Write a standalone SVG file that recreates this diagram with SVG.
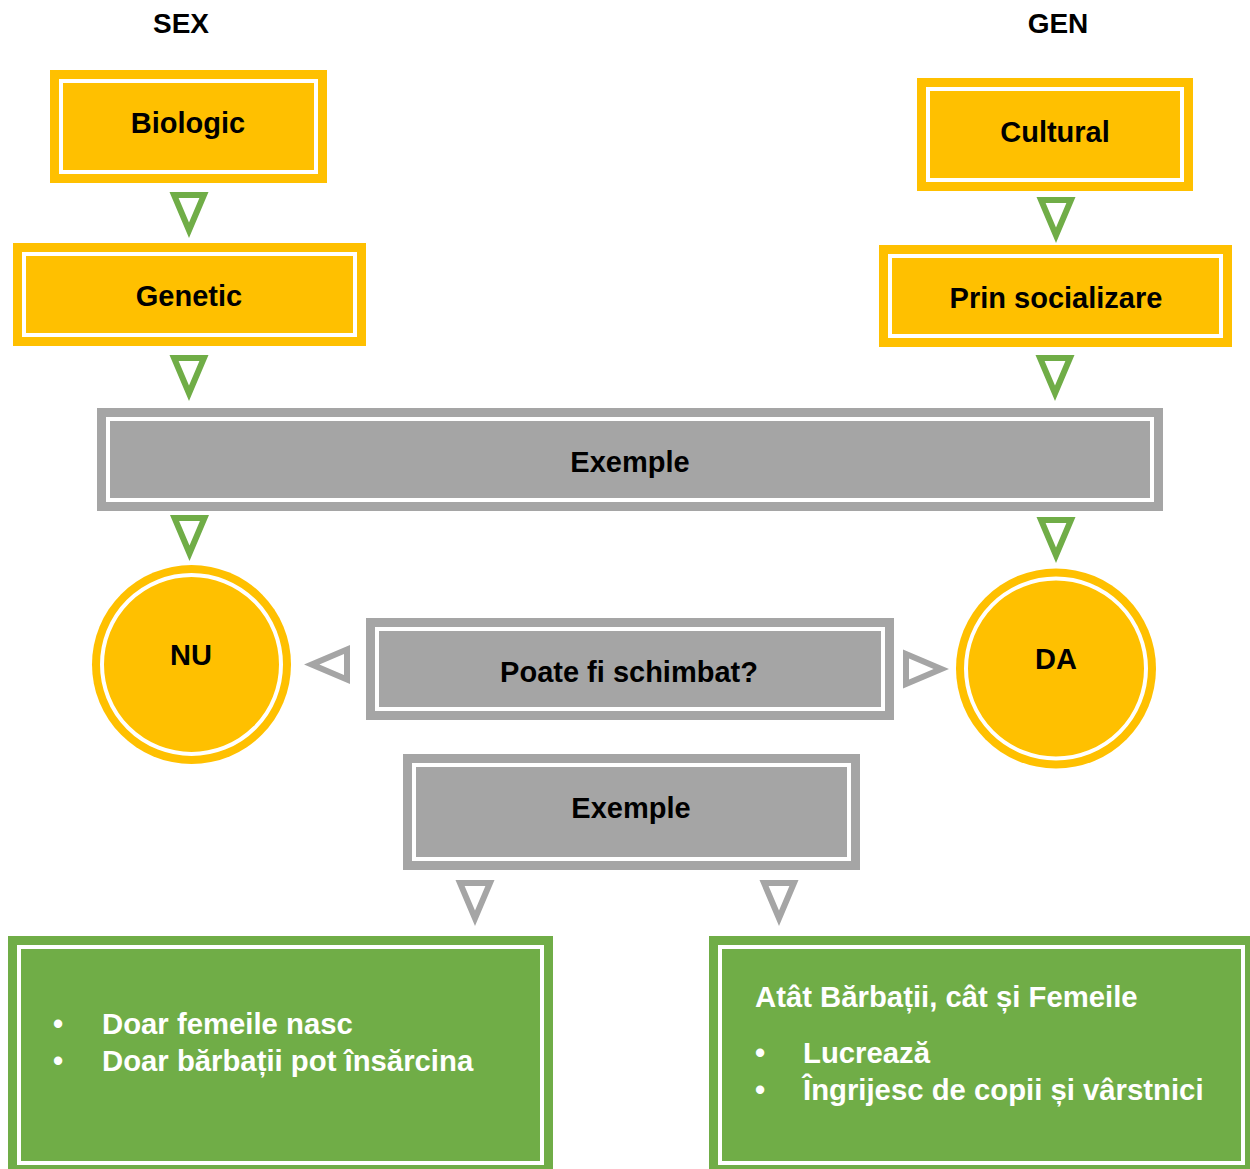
<svg xmlns="http://www.w3.org/2000/svg" xmlns:xlink="http://www.w3.org/1999/xlink" width="1250" height="1169" viewBox="0 0 1250 1169">
<style>
text{font-family:"Liberation Sans",Arial,sans-serif;font-weight:bold;}
.lbl{font-size:29px;fill:#000;text-anchor:middle;}
.hdr{font-size:28px;fill:#000;text-anchor:middle;}
.wt{font-size:29.3px;fill:#fff;}
.bul{font-size:29px;fill:#fff;text-anchor:middle;}
.yel{fill:#FFC000;}
.gry{fill:#A5A5A5;}
.grn{fill:#70AD47;}
.ring{fill:none;stroke:#fff;stroke-width:4;}
.tg{fill:#70AD47;fill-rule:evenodd;}
.tgr{fill:#A5A5A5;fill-rule:evenodd;}
</style>
<defs>
<path id="tri" d="M-19.5,0 L19.5,0 L0,46 Z M-10.4,6 L10.4,6 L0,30.6 Z"/>
</defs>
<rect width="1250" height="1169" fill="#fff"/>

<g id="headers">
<text class="hdr" x="181" y="33">SEX</text>
<text class="hdr" x="1058" y="33">GEN</text>
</g>

<g id="node-biologic">
<rect class="yel" x="50" y="70" width="277" height="113"/>
<rect class="ring" x="61" y="81" width="255" height="91"/>
<text class="lbl" x="188" y="133">Biologic</text>
</g>

<g id="node-genetic">
<rect class="yel" x="13" y="243" width="353" height="103"/>
<rect class="ring" x="24" y="254" width="331" height="81"/>
<text class="lbl" x="189" y="306">Genetic</text>
</g>

<g id="node-cultural">
<rect class="yel" x="917" y="78" width="276" height="113"/>
<rect class="ring" x="928" y="89" width="254" height="91"/>
<text class="lbl" x="1055" y="142">Cultural</text>
</g>

<g id="node-socializare">
<rect class="yel" x="879" y="245" width="353" height="102"/>
<rect class="ring" x="890" y="256" width="331" height="80"/>
<text class="lbl" x="1056" y="308">Prin socializare</text>
</g>

<g id="node-exemple1">
<rect class="gry" x="97" y="408" width="1066" height="103"/>
<rect class="ring" x="108" y="419" width="1044" height="81"/>
<text class="lbl" x="630" y="472">Exemple</text>
</g>

<g id="node-nu">
<circle class="yel" cx="191.5" cy="664.5" r="99.5"/>
<circle class="ring" cx="191.5" cy="664.5" r="89.5"/>
<text class="lbl" x="191" y="665">NU</text>
</g>

<g id="node-da">
<circle class="yel" cx="1056" cy="668.5" r="100"/>
<circle class="ring" cx="1056" cy="668.5" r="90"/>
<text class="lbl" x="1056" y="669">DA</text>
</g>

<g id="node-poate">
<rect class="gry" x="366" y="618" width="528" height="102"/>
<rect class="ring" x="377" y="629" width="506" height="80"/>
<text class="lbl" x="629" y="682">Poate fi schimbat?</text>
</g>

<g id="node-exemple2">
<rect class="gry" x="403" y="754" width="457" height="116"/>
<rect class="ring" x="414" y="765" width="435" height="94"/>
<text class="lbl" x="631" y="818">Exemple</text>
</g>

<g id="node-sex-examples">
<rect class="grn" x="8" y="936" width="545" height="238"/>
<rect class="ring" x="19" y="947" width="523" height="216"/>
<text class="bul" x="58" y="1034">•</text>
<text class="wt" x="102" y="1034">Doar femeile nasc</text>
<text class="bul" x="58" y="1071">•</text>
<text class="wt" x="102" y="1071">Doar bărbații pot însărcina</text>
</g>

<g id="node-gen-examples">
<rect class="grn" x="709" y="936" width="545" height="238"/>
<rect class="ring" x="720" y="947" width="523" height="216"/>
<text class="wt" x="755" y="1007">Atât Bărbații, cât și Femeile</text>
<text class="bul" x="760" y="1063">•</text>
<text class="wt" x="803" y="1063">Lucrează</text>
<text class="bul" x="760" y="1100">•</text>
<text class="wt" x="803" y="1100">Îngrijesc de copii și vârstnici</text>
</g>

<g id="connectors">
<use href="#tri" class="tg" transform="translate(189,192)"/>
<use href="#tri" class="tg" transform="translate(189,355)"/>
<use href="#tri" class="tg" transform="translate(189.5,515)"/>
<use href="#tri" class="tg" transform="translate(1056,197)"/>
<use href="#tri" class="tg" transform="translate(1055,355)"/>
<use href="#tri" class="tg" transform="translate(1056,517)"/>
<use href="#tri" class="tgr" transform="translate(350,664.5) rotate(90)"/>
<use href="#tri" class="tgr" transform="translate(903,669) rotate(-90)"/>
<use href="#tri" class="tgr" transform="translate(475,880)"/>
<use href="#tri" class="tgr" transform="translate(779,880)"/>
</g>
</svg>
